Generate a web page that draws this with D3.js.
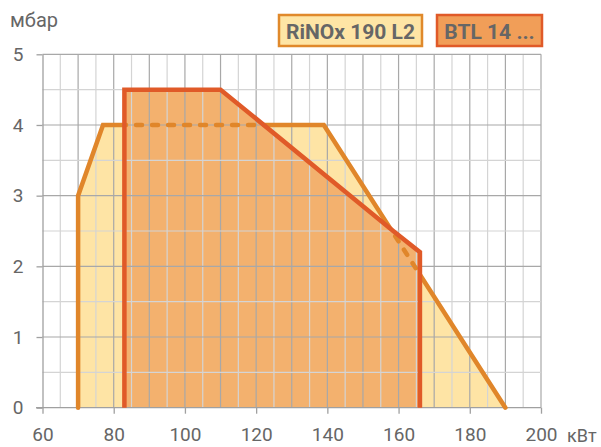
<!DOCTYPE html>
<html>
<head>
<meta charset="utf-8">
<script src="https://cdn.jsdelivr.net/npm/d3@7"></script>
<style>
  body { margin: 0; background: #fff; }
  text { font-family: Roboto, "Noto Sans", sans-serif; fill: #666; }
</style>
</head>
<body>
<div id="chart"></div>
<script>
const width = 601;
const height = 447;

// RiNOx 190 L2 working range
const rinoxKw = [70, 70, 77, 139, 190];
const rinoxMbar = [0, 3, 4, 4, 0];
// BTL 14 ... working range
const btlKw = [83, 83, 110, 158.5, 166, 166];
const btlMbar = [0, 4.5, 4.5, 2.5, 2.2, 0];

const xTicks = [60, 80, 100, 120, 140, 160, 180, 200];
const yTicks = [0, 1, 2, 3, 4, 5];
const legendNames = ["RiNOx 190 L2", "BTL 14 ..."];

const x = d3.scaleLinear().domain([60, 200]).range([42.5, 541]);
const y = d3.scaleLinear().domain([0, 5]).range([407.7, 54.3]);

const rinox = rinoxKw.map((d, i) => [d, rinoxMbar[i]]);
const btl = btlKw.map((d, i) => [d, btlMbar[i]]);

const line = d3.line().x(d => x(d[0])).y(d => y(d[1]));

const svg = d3.select("#chart")
  .append("svg")
  .attr("width", width)
  .attr("height", height);

const defs = svg.append("defs");
defs.append("clipPath").attr("id", "inBtl")
  .append("path").attr("d", line(btl) + "Z");
const mask = defs.append("mask").attr("id", "outBtl");
mask.append("rect").attr("width", width).attr("height", height).attr("fill", "#fff");
mask.append("path").attr("d", line(btl) + "Z").attr("fill", "#000");

// fills
svg.append("path").attr("d", line(rinox) + "Z").attr("fill", "#fee4a5");
svg.append("path").attr("d", line(btl) + "Z").attr("fill", "#f3b16e");

// grid
const grid = svg.append("g");
d3.range(65, 201, 5).forEach(v => {
  grid.append("line")
    .attr("x1", x(v)).attr("x2", x(v))
    .attr("y1", y(0)).attr("y2", y(5))
    .attr("stroke", v % 10 === 0 ? "#a8a8a8" : "#d4d4d4")
    .attr("stroke-width", 1.2);
});
d3.range(0.5, 5.01, 0.5).forEach(v => {
  grid.append("line")
    .attr("x1", x(60)).attr("x2", x(200))
    .attr("y1", y(v)).attr("y2", y(v))
    .attr("stroke", v % 1 === 0 ? "#a8a8a8" : "#d4d4d4")
    .attr("stroke-width", 1.2);
});

// axes
svg.append("g")
  .attr("transform", `translate(0,${y(0)})`)
  .call(d3.axisBottom(x).tickValues(xTicks).tickSize(6).tickSizeOuter(0).tickPadding(14))
  .call(g => g.select(".domain").attr("d", `M36,0H${x(200)}`))
  .call(g => g.selectAll("line, path").attr("stroke", "#a0a0a0").attr("stroke-width", 1.3))
  .call(g => g.selectAll("text").attr("font-size", 19).attr("fill", "#666"));

svg.append("g")
  .attr("transform", `translate(${x(60)},0)`)
  .call(d3.axisLeft(y).tickValues(yTicks).tickFormat(d3.format("d")).tickSize(6).tickSizeOuter(0).tickPadding(13))
  .call(g => g.selectAll("line, path").attr("stroke", "#a0a0a0").attr("stroke-width", 1.3))
  .call(g => g.selectAll("text").attr("font-size", 19).attr("fill", "#666"));

// RiNOx outline: solid outside BTL, dashed inside
svg.append("path").attr("d", line(rinox))
  .attr("fill", "none").attr("stroke", "#e0862a").attr("stroke-width", 4.5)
  .attr("stroke-linecap", "round").attr("mask", "url(#outBtl)");
svg.append("path").attr("d", line(rinox))
  .attr("fill", "none").attr("stroke", "#e0862a").attr("stroke-width", 4.5)
  .attr("stroke-linecap", "round").attr("stroke-dasharray", "6 10")
  .attr("clip-path", "url(#inBtl)");

svg.append("path").attr("d", line(btl))
  .attr("fill", "none").attr("stroke", "#e05a28").attr("stroke-width", 4.5);

// unit labels
svg.append("text").attr("x", 10).attr("y", 27).attr("font-size", 20).text("мбар");
svg.append("text").attr("x", 567).attr("y", 442).attr("font-size", 18).attr("fill", "#555").text("кВт");

// legend
const legendBoxes = [
  { x: 279, w: 143, fill: "#fee5a5", stroke: "#e0892b" },
  { x: 437, w: 105, fill: "#f19e58", stroke: "#e05a28" }
];
legendNames.forEach((name, i) => {
  const b = legendBoxes[i];
  svg.append("rect")
    .attr("x", b.x).attr("y", 15).attr("width", b.w).attr("height", 31)
    .attr("fill", b.fill).attr("stroke", b.stroke).attr("stroke-width", 2.5);
  svg.append("text")
    .attr("x", b.x + b.w / 2).attr("y", 38.5)
    .attr("text-anchor", "middle")
    .attr("font-size", 21).attr("font-weight", "bold").attr("fill", "#666")
    .text(name);
});
</script>
</body>
</html>
